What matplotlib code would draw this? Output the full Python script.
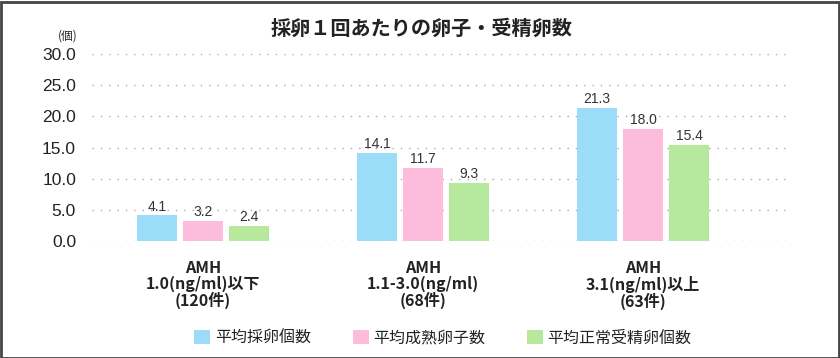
import matplotlib
matplotlib.use("Agg")
import matplotlib.pyplot as plt
from matplotlib.patches import Rectangle
import numpy as np

plt.rcParams['font.family'] = ['Noto Sans CJK JP', 'DejaVu Sans']

title = "採卵１回あたりの卵子・受精卵数"
unit_label = "(個)"
categories = ["AMH\n1.0(ng/ml)以下\n(120件)",
              "AMH\n1.1-3.0(ng/ml)\n(68件)",
              "AMH\n3.1(ng/ml)以上\n(63件)"]
series_names = ["平均採卵個数", "平均成熟卵子数", "平均正常受精卵個数"]
series_colors = ["#9BDDF9", "#FDBCDC", "#B7E99D"]
values_retrieved = [4.1, 14.1, 21.3]
values_mature = [3.2, 11.7, 18.0]
values_fertilized = [2.4, 9.3, 15.4]
yticks = [0, 5, 10, 15, 20, 25, 30]

series = [values_retrieved, values_mature, values_fertilized]

W, H = 840, 358
fig = plt.figure(figsize=(W / 100, H / 100), dpi=100)
fig.patch.set_facecolor("white")

ax_l, ax_r, ax_t, ax_b = 92, 790, 54, 241
ax = fig.add_axes([ax_l / W, 1 - ax_b / H, (ax_r - ax_l) / W, (ax_b - ax_t) / H])

x = np.arange(len(categories))
bw = 40 / 220
off = 46 / 220
handles = []
for i, (vals, name, col) in enumerate(zip(series, series_names, series_colors)):
    b = ax.bar(x + (i - 1) * off, vals, width=bw, color=col, label=name, zorder=3)
    handles.append(b)
    for xi, v in zip(x + (i - 1) * off, vals):
        ax.text(xi, v + 0.3, f"{v:.1f}", ha="center", va="bottom",
                fontsize=10, color="#333333", family=['Liberation Sans', 'DejaVu Sans'], zorder=4)

ax.set_ylim(0, 30)
ax.set_xlim((ax_l - 203) / 220, (ax_r - 203) / 220)
ax.set_yticks(yticks)
ax.set_yticklabels([f"{t:.1f}" for t in yticks], family=['Liberation Sans', 'DejaVu Sans'])
ax.tick_params(axis="y", length=0, pad=11.5, labelsize=12.5, labelcolor="#222222")
ax.set_xticks(x)
ax.set_xticklabels(categories, fontsize=11.5, fontweight="bold", color="#222222",
                   linespacing=0.97)
ax.tick_params(axis="x", length=0, pad=14)
for s in ax.spines.values():
    s.set_visible(False)
ax.yaxis.grid(True, linestyle=(0, (1, 5)), color="#aaaaaa", linewidth=1, zorder=0)
ax.set_axisbelow(True)

fig.text(422 / W, 1 - 28 / H, title, ha="center", va="center",
         fontsize=14.5, fontweight="bold", color="#222222")
fig.text(68 / W, 1 - 36 / H, unit_label, ha="center", va="center",
         fontsize=8.5, color="#222222")

leg = ax.legend(handles=handles, loc="center", ncol=3,
                bbox_to_anchor=((443 - ax_l) / (ax_r - ax_l), (ax_b - 338) / (ax_b - ax_t)),
                frameon=False, fontsize=11.5, handlelength=1.0, handleheight=1.0,
                handletextpad=0.3, columnspacing=2.6, borderaxespad=0)
for t in leg.get_texts():
    t.set_color("#222222")

fig.add_artist(Rectangle((0.5 / W, 0.5 / H), (W - 2) / W, (H - 2) / H, transform=fig.transFigure,
                         fill=False, edgecolor="#444444", linewidth=2))

fig.savefig("out.png", dpi=100, facecolor="white")
